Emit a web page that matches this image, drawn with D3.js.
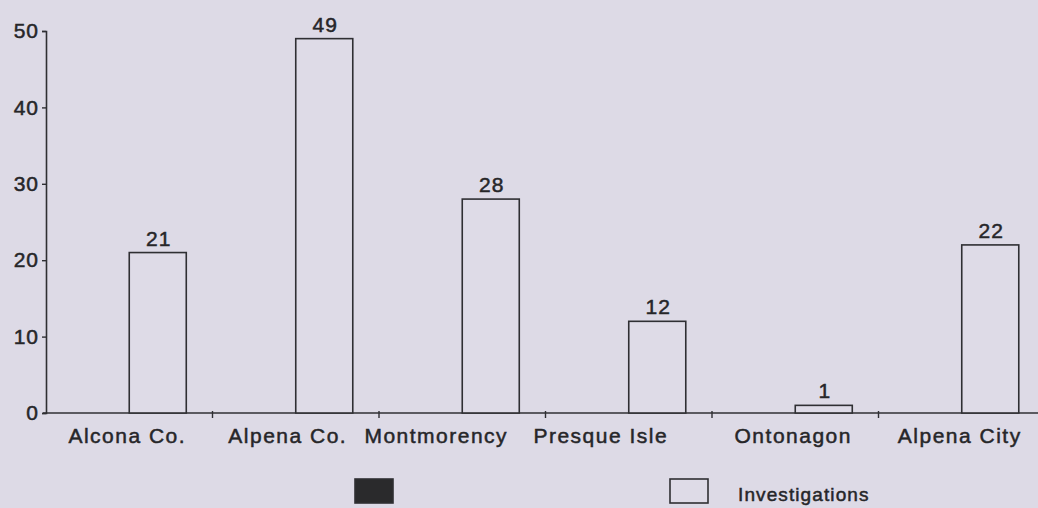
<!DOCTYPE html>
<html>
<head>
<meta charset="utf-8">
<script src="https://cdn.jsdelivr.net/npm/d3@7"></script>
<style>
  html, body { margin: 0; padding: 0; background: #dddae6; }
  svg { display: block; }
  text { font-family: "Liberation Sans", Arial, sans-serif; fill: #262629; stroke: #262629; stroke-width: 0.5; }
</style>
</head>
<body>
<svg id="chart" width="1038" height="508"></svg>
<script>
// ---- data ----
const categories = ["Alcona Co.", "Alpena Co.", "Montmorency", "Presque Isle", "Ontonagon", "Alpena City"];
const seriesNames = ["", "Investigations"];
const seriesDark = [null, null, null, null, null, null];
const investigations = [21, 49, 28, 12, 1, 22];
const yTicks = [0, 10, 20, 30, 40, 50];

const seriesValues = [seriesDark, investigations];

// layout-only nudges for crowded category labels (px)
const labelNudge = { "Alpena Co.": -6, "Montmorency": -24, "Presque Isle": -26 };

const W = 1038, H = 508;
const svg = d3.select("#chart");
svg.append("rect").attr("width", W).attr("height", H).attr("fill", "#dddae6");

const x0 = d3.scaleBand().domain(categories).range([46, 1045]).padding(0);
const x1 = d3.scaleBand().domain(seriesNames).range([0, x0.bandwidth()]).paddingInner(0).paddingOuter(0.46);
const y = d3.scaleLinear().domain([0, 50]).range([413, 31]);

const ink = "#2f2f33";
const fills = ["#2a2a2c", "#dedbe7"];

// y axis
const yAxis = svg.append("g").attr("transform", `translate(${x0.range()[0]},0)`)
  .call(d3.axisLeft(y).tickValues(yTicks).tickSize(4).tickPadding(3));
yAxis.select(".domain").attr("stroke", ink).attr("stroke-width", 1.6);
yAxis.selectAll(".tick line").attr("stroke", ink).attr("stroke-width", 1.4);
yAxis.selectAll(".tick text").attr("font-size", 21).attr("letter-spacing", 1)
  .attr("fill", "#262629").attr("font-family", "Liberation Sans, Arial, sans-serif");

// x axis
const xAxisG = svg.append("g").attr("transform", `translate(0,${y(0)})`);
xAxisG.append("line").attr("x1", x0.range()[0] - 3).attr("x2", W).attr("y1", 0).attr("y2", 0)
  .attr("stroke", ink).attr("stroke-width", 1.6);
xAxisG.selectAll("line.tk").data(categories.slice(1)).join("line").attr("class", "tk")
  .attr("x1", d => x0(d)).attr("x2", d => x0(d)).attr("y1", -2).attr("y2", 5)
  .attr("stroke", ink).attr("stroke-width", 1.4);
xAxisG.selectAll("text.cat").data(categories).join("text").attr("class", "cat")
  .attr("x", d => x0(d) + x0.bandwidth() / 2 - 2 + (labelNudge[d] || 0)).attr("y", 30)
  .attr("text-anchor", "middle").attr("font-size", 21).attr("letter-spacing", 1.5)
  .text(d => d);

// bars
seriesValues.forEach((vals, si) => {
  const name = seriesNames[si];
  const data = categories.map((c, i) => ({ c, v: vals[i] })).filter(d => d.v != null);
  svg.append("g").selectAll("rect").data(data).join("rect")
    .attr("x", d => x0(d.c) + x1(name))
    .attr("y", d => y(d.v))
    .attr("width", x1.bandwidth())
    .attr("height", d => y(0) - y(d.v))
    .attr("fill", fills[si]).attr("stroke", ink).attr("stroke-width", 1.6);
  svg.append("g").selectAll("text").data(data).join("text")
    .attr("x", d => x0(d.c) + x1(name) + x1.bandwidth() / 2 + 1)
    .attr("y", d => y(d.v) - 7)
    .attr("text-anchor", "middle").attr("font-size", 21).attr("letter-spacing", 1)
    .text(d => d.v);
});

// legend
const legend = svg.append("g");
seriesNames.forEach((name, i) => {
  const lx = 355 + i * 315;
  legend.append("rect").attr("x", lx).attr("y", 479).attr("width", 38).attr("height", 24)
    .attr("fill", fills[i]).attr("stroke", ink).attr("stroke-width", 1.6);
  legend.append("text").attr("x", lx + 68).attr("y", 501).attr("font-size", 19)
    .attr("letter-spacing", 1.1).text(name);
});
</script>
</body>
</html>
